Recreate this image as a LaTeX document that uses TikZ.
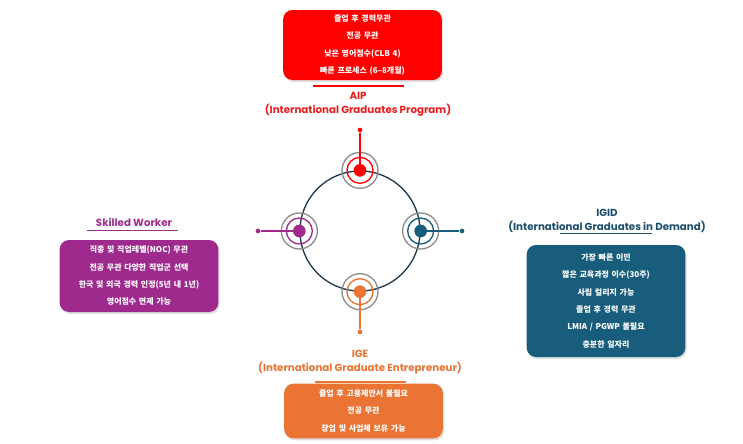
\documentclass[tikz,border=0pt]{standalone}
\usepackage{fontspec}
\setmainfont{Poppins}
\newfontfamily\kofont{Noto Sans CJK KR}
\usetikzlibrary{positioning,shadows}

\definecolor{aipred}{RGB}{255,0,0}
\definecolor{aiptitle}{RGB}{232,30,30}
\definecolor{swpurple}{RGB}{158,42,142}
\definecolor{igidteal}{RGB}{24,94,124}
\definecolor{igidtitle}{RGB}{28,78,108}
\definecolor{igeorange}{RGB}{233,116,52}
\definecolor{hubnavy}{RGB}{30,56,76}
\definecolor{ringgray}{RGB}{140,140,140}

\begin{document}
\begin{tikzpicture}[x=0.75pt, y=-0.75pt,
  infobox/.style={rounded corners=7pt, text=white, align=center, inner sep=0pt,
    text width=119pt, font=\kofont\bfseries\fontsize{6}{13}\selectfont,
    drop shadow={opacity=0.25, shadow xshift=1pt, shadow yshift=-1.5pt}},
  title/.style={align=center, inner sep=0pt, font=\bfseries\fontsize{7.7}{10.5}\selectfont},
  grayring/.style={circle, draw=ringgray, line width=1pt, minimum size=27pt, inner sep=0pt},
  colring/.style={circle, line width=1pt, minimum size=19.5pt, inner sep=0pt},
  dot/.style={circle, minimum size=9.5pt, inner sep=0pt},
  enddot/.style={circle, minimum size=3.5pt, inner sep=0pt}]
\useasboundingbox (0,0) rectangle (743,443);

% AIP
\node (aip-box) [infobox, fill=aipred, minimum height=52.5pt] at (362.5,45)
  {졸업 후 경력무관\\전공 무관\\낮은 영어점수(CLB 4)\\빠른 프로세스 (6–8개월)};
\node (aip-title) [title, text=aiptitle] at (358,104)
  {AIP\\(International Graduates Program)};
\draw[aipred, line width=1.2pt] (313,86) -- (404,86);

% Skilled Worker
\node (sw-title) [title, text=swpurple] at (134,222.5) {Skilled Worker};
\draw[swpurple, line width=1.2pt] (87,230.5) -- (178,230.5);
\node (sw-box) [infobox, fill=swpurple, minimum height=54pt] at (139,276)
  {직종 및 직업레벨(NOC) 무관\\전공 무관 다양한 직업군 선택\\한국 및 외국 경력 인정(5년 내 1년)\\영어점수 면제 가능};

% IGID
\node (igid-title) [title, text=igidtitle] at (607,221)
  {IGID\\(International Graduates in Demand)};
\draw[igidtitle, line width=1.2pt] (560,233.5) -- (652,233.5);
\node (igid-box) [infobox, fill=igidteal, minimum height=84pt] at (606,301)
  {가장 빠른 이민\\짧은 교육과정 이수(30주)\\사립 컬리지 가능\\졸업 후 경력 무관\\LMIA / PGWP 불필요\\충분한 일자리};

% IGE
\node (ige-title) [title, text=igeorange] at (360,362.5)
  {IGE\\(International Graduate Entrepreneur)};
\draw[igeorange, line width=1.2pt] (315,382) -- (406,382);
\node (ige-box) [infobox, fill=igeorange, minimum height=41pt] at (363.5,411)
  {졸업 후 고용제안서 불필요\\전공 무관\\창업 및 사업체 보유 가능};

% hub
\node (hub) [circle, draw=hubnavy, line width=1pt, minimum size=90pt, inner sep=0pt] at (360,231) {};
\foreach \pos/\col/\name in {north/aipred/aip, east/igidteal/igid, south/igeorange/ige, west/swpurple/sw}{
  \node (\name-ring) [grayring] at (hub.\pos) {};
  \node [colring, draw=\col] at (hub.\pos) {};
  \node (\name-dot) [dot, fill=\col] at (hub.\pos) {};
}

% spokes
\node (aip-end) [enddot, fill=aipred] at (360,130) {};
\node (igid-end) [enddot, fill=igidteal] at (462,231) {};
\node (ige-end) [enddot, fill=igeorange] at (360,332) {};
\node (sw-end) [enddot, fill=swpurple] at (258,231) {};
\draw[aipred, line width=1pt] (aip-dot.center) -- (aip-end);
\draw[igidteal, line width=1pt] (igid-dot.center) -- (igid-end);
\draw[igeorange, line width=1pt] (ige-dot.center) -- (ige-end);
\draw[swpurple, line width=1pt] (sw-dot.center) -- (sw-end);
\end{tikzpicture}
\end{document}
